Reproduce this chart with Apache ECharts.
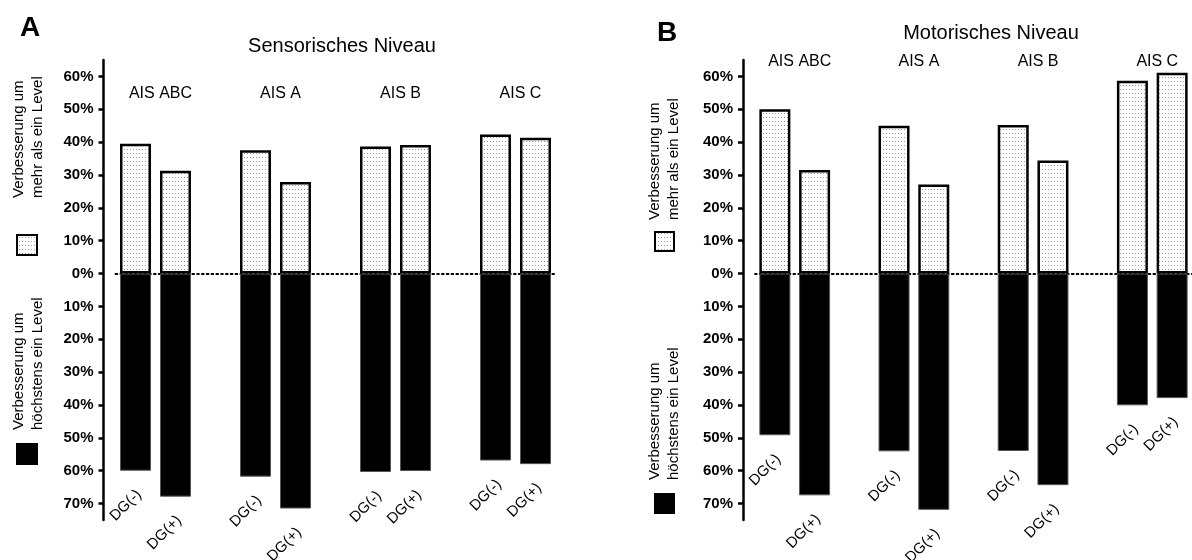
<!DOCTYPE html>
<html>
<head>
<meta charset="utf-8">
<script src="https://cdn.jsdelivr.net/npm/echarts@6/dist/echarts.min.js"></script>
<style>
html, body { margin: 0; padding: 0; background: #fff; }
#chart { width: 1192px; height: 560px; }
</style>
</head>
<body>
<div id="chart"></div>
<script>
var groups = ['AIS ABC', 'AIS A', 'AIS B', 'AIS C'];
var subgroups = ['DG(-)', 'DG(+)'];
var tickValues = [-70, -60, -50, -40, -30, -20, -10, 0, 10, 20, 30, 40, 50, 60];

// Sensorisches Niveau (A)
var sensMore = [39.5, 31.3, 37.5, 27.9, 38.7, 39.1, 42.3, 41.3];
var sensMax1 = [60.0, 67.9, 61.8, 71.5, 60.4, 60.1, 56.9, 58.0];
// Motorisches Niveau (B)
var motMore = [50.0, 31.5, 45.0, 27.1, 45.2, 34.4, 58.7, 61.1];
var motMax1 = [49.2, 67.5, 54.1, 71.9, 54.0, 64.4, 40.1, 37.9];

var font = "'Liberation Sans', Arial, sans-serif";

// categories: two bars per group, one empty slot between groups
var cats = [];
groups.forEach(function (g, i) {
    subgroups.forEach(function (s) { cats.push(g + '|' + s); });
    if (i < groups.length - 1) cats.push('gap' + i);
});

function spread(vals, sign) {
    var out = [], k = 0;
    cats.forEach(function (c) {
        if (c.indexOf('gap') === 0) out.push(null);
        else out.push(sign * vals[k++]);
    });
    return out;
}

// dotted fill pattern
var pc = document.createElement('canvas');
pc.width = 3; pc.height = 4;
var ctx = pc.getContext('2d');
ctx.fillStyle = '#fff';
ctx.fillRect(0, 0, 3, 4);
ctx.fillStyle = '#9a9a9a';
ctx.fillRect(1, 1, 1, 1);
var dots = { image: pc, repeat: 'repeat' };

function xAxisFor(k) {
    return {
        type: 'category', gridIndex: k, data: cats,
        axisLine: { onZero: true, lineStyle: { color: '#000', width: 1.8, type: [1.8, 3] } },
        axisTick: { show: false },
        axisLabel: { show: false }
    };
}

function yAxisFor(k) {
    return {
        type: 'value', gridIndex: k, min: -75, max: 65, offset: 12,
        axisLine: { show: true, lineStyle: { color: '#000', width: 2.5 } },
        axisTick: { show: true, customValues: tickValues, length: 5, lineStyle: { color: '#000', width: 2.5 } },
        axisLabel: {
            customValues: tickValues, margin: 10,
            fontFamily: font, fontSize: 15, fontWeight: 'bold', color: '#000',
            formatter: function (v) { return Math.abs(v) + '%'; }
        },
        splitLine: { show: false }
    };
}

function seriesFor(k, more, max1) {
    return [{
        type: 'bar', xAxisIndex: k, yAxisIndex: k, data: spread(more, 1),
        barWidth: 31, barGap: '-100%', z: 3,
        itemStyle: { color: dots, borderColor: '#000', borderWidth: 2.5 }
    }, {
        type: 'bar', xAxisIndex: k, yAxisIndex: k, data: spread(max1, -1),
        barWidth: 31, barGap: '-100%', z: 2,
        itemStyle: { color: '#000', borderColor: '#555', borderWidth: 1 },
        label: {
            show: true, position: 'bottom', distance: 25, rotate: 45,
            align: 'right', verticalAlign: 'middle', offset: [5, 0],
            fontFamily: font, fontSize: 15, color: '#000',
            formatter: function (p) { return p.name.split('|')[1]; }
        }
    }];
}

var chart = echarts.init(document.getElementById('chart'));

var option = {
    animation: false,
    grid: [
        { left: 115.5, top: 60, width: 440, height: 460 },
        { left: 755, top: 60, width: 440, height: 460 }
    ],
    xAxis: [xAxisFor(0), xAxisFor(1)],
    yAxis: [yAxisFor(0), yAxisFor(1)],
    series: seriesFor(0, sensMore, sensMax1).concat(seriesFor(1, motMore, motMax1))
};
chart.setOption(option);

function txt(x, y, text, size, weight, align, rot) {
    return {
        type: 'text', x: x, y: y, rotation: rot || 0, silent: true,
        style: {
            text: text, fill: '#000',
            font: (weight || 'normal') + ' ' + size + 'px ' + font,
            textAlign: align || 'center', textVerticalAlign: 'middle',
            align: align || 'center', verticalAlign: 'middle'
        }
    };
}

function legendText(x, y, text) {
    return {
        type: 'text', x: x, y: y, rotation: Math.PI / 2, silent: true,
        style: {
            text: text, fill: '#000', font: '15px ' + font, lineHeight: 19,
            textAlign: 'left', textVerticalAlign: 'top', align: 'left', verticalAlign: 'top'
        }
    };
}

function swatch(x, y, size, fill) {
    return {
        type: 'rect', silent: true,
        shape: { x: x, y: y, width: size, height: size },
        style: { fill: fill, stroke: '#000', lineWidth: 2 }
    };
}

var graphics = [
    txt(20, 28, 'A', 28, 'bold', 'left'),
    txt(657, 33, 'B', 28, 'bold', 'left'),
    txt(342, 46, 'Sensorisches Niveau', 20),
    txt(991, 33, 'Motorisches Niveau', 20),
    legendText(9.5, 198, 'Verbesserung um\nmehr als ein Level'),
    legendText(9.5, 430, 'Verbesserung um\nhöchstens ein Level'),
    legendText(645.5, 220, 'Verbesserung um\nmehr als ein Level'),
    legendText(645.5, 480, 'Verbesserung um\nhöchstens ein Level'),
    swatch(17, 235, 20, dots),
    swatch(17, 444, 20, '#000'),
    swatch(655, 232, 19, dots),
    swatch(655, 494, 19, '#000')
];

// group headers centred over each pair of bars
var headerY = [94, 62];
[0, 1].forEach(function (k) {
    groups.forEach(function (g) {
        var a = chart.convertToPixel({ xAxisIndex: k }, g + '|' + subgroups[0]);
        var b = chart.convertToPixel({ xAxisIndex: k }, g + '|' + subgroups[1]);
        graphics.push(txt((a + b) / 2 + 5, headerY[k], g, 16));
    });
});

chart.setOption({ graphic: graphics });

window.onresize = function () {
    chart.resize();
};
</script>
</body>
</html>
